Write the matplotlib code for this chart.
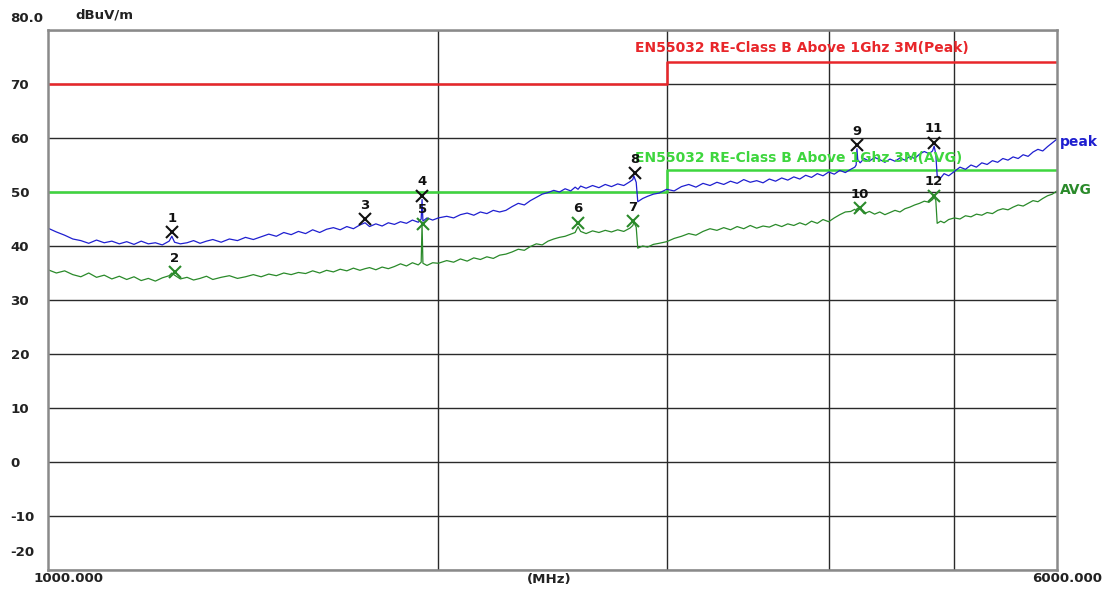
import numpy as np
import matplotlib
matplotlib.use('Agg')
import matplotlib.pyplot as plt
from matplotlib.transforms import ScaledTranslation

plt.rcParams['font.family'] = ['DejaVu Sans']
plt.rcParams['font.weight'] = 'bold'

# sweep frequencies (MHz), rows of 10
freq = [1000, 1015, 1030, 1045, 1060, 1075, 1090, 1105, 1120, 1135,
        1150, 1165, 1180, 1195, 1210, 1225, 1240, 1246, 1252, 1265,
        1280, 1295, 1310, 1325, 1340, 1360, 1380, 1400, 1420, 1440,
        1460, 1480, 1500, 1520, 1540, 1560, 1580, 1600, 1620, 1640,
        1660, 1680, 1700, 1720, 1740, 1756, 1770, 1790, 1810, 1830,
        1850, 1870, 1890, 1910, 1930, 1940, 1943, 1946, 1960, 1980,
        2000, 2030, 2055, 2080, 2105, 2130, 2155, 2180, 2205, 2230,
        2255, 2280, 2305, 2330, 2355, 2380, 2405, 2430, 2455, 2480,
        2505, 2530, 2550, 2563, 2575, 2600, 2630, 2660, 2690, 2720,
        2750, 2780, 2810, 2825, 2830, 2842, 2850, 2875, 2900, 2930,
        2960, 3000, 3040, 3080, 3120, 3160, 3200, 3240, 3280, 3320,
        3360, 3400, 3440, 3480, 3520, 3560, 3600, 3640, 3680, 3720,
        3760, 3800, 3840, 3880, 3920, 3960, 4000, 4040, 4080, 4120,
        4160, 4190, 4200, 4206, 4212, 4230, 4260, 4300, 4340, 4380,
        4420, 4460, 4500, 4540, 4580, 4620, 4660, 4700, 4740, 4780,
        4810, 4824, 4838, 4850, 4880, 4910, 4950, 5000, 5050, 5100,
        5150, 5200, 5250, 5300, 5350, 5400, 5450, 5500, 5550, 5600,
        5650, 5700, 5750, 5800, 5850, 5900, 5950, 6000]

# peak trace (dBuV/m)
peak = [43.3, 42.6, 42.0, 41.3, 41.0, 40.5, 41.1, 40.6, 40.9, 40.4,
        40.8, 40.3, 40.9, 40.4, 40.6, 40.2, 40.9, 41.8, 40.7, 40.4,
        40.6, 41.0, 40.5, 40.9, 41.2, 40.7, 41.3, 41.0, 41.6, 41.2,
        41.7, 42.2, 41.8, 42.5, 42.1, 42.7, 42.3, 43.0, 42.5, 43.1,
        43.4, 43.0, 43.6, 43.2, 43.9, 44.3, 43.6, 44.1, 43.7, 44.3,
        44.0, 44.5, 44.2, 44.8, 44.4, 45.0, 48.6, 44.6, 45.2, 44.8,
        45.2, 45.5, 45.2, 45.8, 46.1, 45.7, 46.3, 46.0, 46.6, 46.3,
        46.6, 47.3, 47.9, 47.6, 48.4, 49.0, 49.6, 49.9, 50.3, 50.0,
        50.6, 50.2, 50.9, 50.5, 51.1, 50.7, 51.2, 50.8, 51.4, 51.0,
        51.5, 51.2, 51.9, 52.3, 53.0, 51.8, 48.2, 48.8, 49.2, 49.6,
        49.8, 50.5, 50.2, 51.0, 51.4, 50.9, 51.6, 51.2, 51.8, 51.4,
        52.0, 51.6, 52.3, 51.8, 52.1, 51.7, 52.4, 52.0, 52.6, 52.2,
        52.8, 52.4, 53.1, 52.7, 53.4, 53.0, 53.7, 53.3, 54.0, 53.6,
        54.2, 54.6, 55.0, 58.0, 56.0, 55.4, 56.2, 55.7, 56.4, 56.0,
        55.5, 56.1, 55.7, 56.3, 55.9, 56.6, 56.2, 57.0, 57.5, 57.1,
        57.6, 58.5, 57.0, 53.0, 52.6, 53.4, 53.0, 53.8, 54.6, 54.2,
        55.0, 54.6, 55.4, 55.1, 55.8, 55.5, 56.2, 55.9, 56.5, 56.2,
        56.9, 56.6, 57.4, 57.9, 57.6, 58.4, 59.1, 59.8]

# average trace (dBuV/m)
avg = [35.6, 35.0, 35.4, 34.7, 34.3, 35.0, 34.2, 34.6, 33.9, 34.4,
       33.8, 34.3, 33.6, 34.0, 33.5, 34.1, 34.5, 35.0, 34.6, 33.9,
       34.2, 33.7, 34.0, 34.4, 33.8, 34.2, 34.5, 34.0, 34.3, 34.7,
       34.3, 34.8, 34.5, 35.0, 34.7, 35.1, 34.9, 35.4, 35.0, 35.5,
       35.2, 35.7, 35.4, 35.9, 35.5, 35.8, 36.0, 35.6, 36.1, 35.8,
       36.2, 36.7, 36.3, 36.9, 36.5, 37.0, 44.1, 36.8, 36.4, 36.9,
       36.8, 37.3, 37.0, 37.6, 37.2, 37.8, 37.5, 38.0, 37.7, 38.3,
       38.5, 38.9, 39.4, 39.2, 39.9, 40.4, 40.2, 40.9, 41.3, 41.6,
       41.8, 42.2, 42.5, 43.6, 42.7, 42.3, 42.8, 42.5, 42.9, 42.6,
       43.0, 42.7, 43.3, 43.8, 44.4, 43.5, 39.6, 40.0, 39.8, 40.3,
       40.5, 40.8, 41.4, 41.8, 42.3, 42.0, 42.7, 43.2, 42.9, 43.4,
       43.0, 43.6, 43.2, 43.8, 43.3, 43.7, 43.5, 44.0, 43.6, 44.1,
       43.8, 44.3, 43.9, 44.6, 44.2, 44.9, 44.5, 45.2, 45.8, 46.3,
       46.4, 46.8, 46.5, 46.9, 47.0, 46.8, 46.0, 46.4, 45.9, 46.3,
       45.8, 46.2, 46.6, 46.3, 46.9, 47.2, 47.6, 47.9, 48.3, 48.1,
       48.6, 49.0, 48.5, 44.2, 44.6, 44.3, 44.9, 45.2, 45.0, 45.6,
       45.4, 45.9, 45.7, 46.2, 46.0, 46.6, 46.9, 46.7, 47.2, 47.6,
       47.4, 47.9, 48.4, 48.2, 48.8, 49.3, 49.6, 50.2]

# limit lines
lim_freq = [1000, 3000, 3000, 6000]
lim_peak = [70, 70, 74, 74]
lim_avg = [50, 50, 54, 54]

# markers
mk_num = ['1', '2', '3', '4', '5', '6', '7', '8', '9', '10', '11', '12']
mk_freq = [1246, 1252, 1756, 1943, 1946, 2563, 2825, 2835, 4206, 4230, 4824, 4824]
mk_level = [42.6, 35.2, 45.0, 49.3, 44.1, 44.3, 44.6, 53.5, 58.7, 47.0, 59.1, 49.3]
mk_kind = ['pk', 'av', 'pk', 'pk', 'av', 'av', 'av', 'pk', 'pk', 'av', 'pk', 'av']

ytick_vals = [-20, -10, 0, 10, 20, 30, 40, 50, 60, 70, 80]
ytick_labels = ['-20', '-10', '0', '10', '20', '30', '40', '50', '60', '70', '80.0']

RED = '#e8262a'
LIME = '#3ed63e'
BLUE = '#1f1fd0'
DKGREEN = '#2a8a2a'

fig = plt.figure(figsize=(11.05, 5.95), dpi=100)
ax = fig.add_axes([48 / 1105, 25 / 595, 1009 / 1105, 540 / 595])

ax.set_xscale('log')
ax.set_xlim(1000, 6000)
ax.set_ylim(-20, 80)

# grid
ax.set_xticks([2000, 3000, 4000, 5000])
ax.set_xticklabels([])
ax.xaxis.set_minor_locator(matplotlib.ticker.NullLocator())
ax.set_yticks(ytick_vals)
ax.set_yticklabels(ytick_labels, fontsize=9.6, fontweight='bold', color='#222222')
ax.tick_params(length=0)
ax.tick_params(axis='y', pad=27)
for lab in ax.get_yticklabels():
    lab.set_horizontalalignment('left')
ylabs = ax.get_yticklabels()
ylabs[-1].set_transform(ylabs[-1].get_transform() + ScaledTranslation(0, 0.13, fig.dpi_scale_trans))
ylabs[0].set_transform(ylabs[0].get_transform() + ScaledTranslation(0, 0.19, fig.dpi_scale_trans))
ax.grid(True, color='#2a2a2a', linewidth=1.0)
ax.set_axisbelow(True)
for sp in ax.spines.values():
    sp.set_color('#8a8a8a')
    sp.set_linewidth(1.8)
    sp.set_zorder(5)

# limits
ax.plot(lim_freq, lim_peak, color=RED, lw=1.8, zorder=3)
ax.plot(lim_freq, lim_avg, color=LIME, lw=1.8, zorder=3)

# traces
ax.plot(freq, avg, color=DKGREEN, lw=0.9, zorder=4)
ax.plot(freq, peak, color=BLUE, lw=0.9, zorder=4)

# markers
for n, f, lv, k in zip(mk_num, mk_freq, mk_level, mk_kind):
    c = '#111111' if k == 'pk' else DKGREEN
    ax.plot(f, lv, marker='x', ms=8, mew=1.5, color=c, zorder=6, ls='none')
    ax.annotate(n, (f, lv), xytext=(0, 10), textcoords='offset points',
                ha='center', va='center', fontsize=9.5, fontweight='bold',
                color='#111111', zorder=7)

# limit captions
ax.text(2836, 76.7, 'EN55032 RE-Class B Above 1Ghz 3M(Peak)', color=RED,
        fontsize=10, fontweight='bold', va='center', ha='left', zorder=6)
ax.text(2836, 56.3, 'EN55032 RE-Class B Above 1Ghz 3M(AVG)', color=LIME,
        fontsize=10, fontweight='bold', va='center', ha='left', zorder=6)

# trace names at the right
ax.annotate('peak', (6000, 59.3), xytext=(2, 0), textcoords='offset points',
            color=BLUE, fontsize=10, fontweight='bold', va='center', ha='left',
            annotation_clip=False)
ax.annotate('AVG', (6000, 50.4), xytext=(2, 0), textcoords='offset points',
            color=DKGREEN, fontsize=10, fontweight='bold', va='center', ha='left',
            annotation_clip=False)

# header / axis captions
fig.text(75 / 1105, 1 - 15 / 595, 'dBuV/m', fontsize=9.5, fontweight='bold',
         color='#222222', va='center', ha='left')
fig.text(33 / 1105, 1 - 579 / 595, '1000.000', fontsize=9.6, fontweight='bold',
         color='#222222', va='center', ha='left')
fig.text(549 / 1105, 1 - 580 / 595, '(MHz)', fontsize=9.6, fontweight='bold',
         color='#222222', va='center', ha='center')
fig.text(1102 / 1105, 1 - 579 / 595, '6000.000', fontsize=9.6, fontweight='bold',
         color='#222222', va='center', ha='right')

fig.savefig('out.png', dpi=100)
